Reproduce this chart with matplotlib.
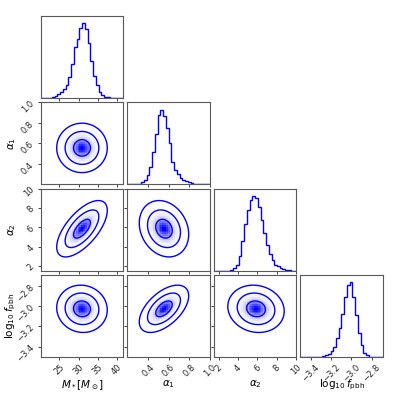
import numpy as np
import matplotlib
matplotlib.use("Agg")
import matplotlib.pyplot as plt
from matplotlib.ticker import MaxNLocator, NullLocator
from matplotlib.colors import LinearSegmentedColormap

# parameter names and plotted ranges
labels = [r"$M_*[M_\odot]$", r"$\alpha_1$", r"$\alpha_2$", r"$\log_{10}f_{\rm pbh}$"]
ranges = [(20.2, 41.7), (0.2, 1.0), (1.5, 10.0), (-3.505, -2.69)]

# 1D marginal histograms (30 bins over each range, peak normalised to 1)
hist_mstar = [0, 0, 0.002, 0.006, 0.015, 0.03, 0.05, 0.08, 0.12, 0.18,
              0.28, 0.46, 0.68, 0.79, 0.94, 1.0, 0.92, 0.73, 0.5, 0.30,
              0.17, 0.08, 0.045, 0.02, 0.01, 0.004, 0.002, 0.001, 0, 0]
hist_alpha1 = [0, 0, 0, 0.002, 0.006, 0.03, 0.06, 0.12, 0.23, 0.44,
               0.68, 0.93, 1.0, 0.91, 0.75, 0.55, 0.30, 0.19, 0.135, 0.09,
               0.063, 0.04, 0.027, 0.018, 0.01, 0.005, 0.003, 0.002, 0.001, 0.001]
hist_alpha2 = [0, 0, 0, 0, 0, 0.003, 0.012, 0.04, 0.085, 0.20,
               0.40, 0.63, 0.82, 0.95, 1.0, 0.97, 0.86, 0.68, 0.51, 0.35,
               0.22, 0.14, 0.085, 0.06, 0.045, 0.025, 0.015, 0.006, 0.002, 0.001]
hist_logf = [0, 0, 0, 0, 0.001, 0.003, 0.005, 0.008, 0.015, 0.03,
             0.045, 0.08, 0.14, 0.26, 0.39, 0.58, 0.80, 0.97, 1.0, 0.80,
             0.56, 0.32, 0.16, 0.06, 0.025, 0.008, 0.003, 0.001, 0, 0]
hists = [hist_mstar, hist_alpha1, hist_alpha2, hist_logf]

# 2D posterior shapes: centre, width, correlation
centers = [30.9, 0.555, 5.85, -3.025]
sigmas = [2.2, 0.08, 0.97, 0.078]
rho = {(1, 0): 0.0, (2, 0): 0.65, (2, 1): -0.2,
       (3, 0): -0.05, (3, 1): 0.55, (3, 2): -0.1}

color = "blue"
nbins = 30
density_cmap = LinearSegmentedColormap.from_list(
    "density_cmap", [color, (1, 1, 1, 0)], gamma=0.75)
sig_levels = np.array([3.0, 2.0, 1.0])

fig, axes = plt.subplots(4, 4, figsize=(3.99, 3.99), dpi=100)
fig.subplots_adjust(left=0.1028, right=0.959, bottom=0.1045, top=0.9607,
                    wspace=0.05, hspace=0.05)


def gauss2d(X, Y, i, j):
    r = rho[(i, j)]
    dx = (X - centers[j]) / sigmas[j]
    dy = (Y - centers[i]) / sigmas[i]
    q = (dx**2 - 2 * r * dx * dy + dy**2) / (1 - r**2)
    return np.exp(-0.5 * q)


n = len(labels)
for i in range(n):
    for j in range(n):
        ax = axes[i, j]
        for sp in ax.spines.values():
            sp.set_color("0.35")
            sp.set_linewidth(0.8)
        ax.tick_params(length=2, width=0.6, pad=2, labelsize=6, colors="0.15")
        if j > i:
            ax.set_frame_on(False)
            ax.set_xticks([])
            ax.set_yticks([])
            continue

        if i == j:
            edges = np.linspace(ranges[i][0], ranges[i][1], nbins + 1)
            ax.hist(edges[:-1], bins=edges, weights=hists[i], histtype="step",
                    color=color, lw=1.0)
            ax.set_xlim(ranges[i])
            ax.set_ylim(0, 1.1 * max(hists[i]))
            ax.yaxis.set_major_locator(NullLocator())
        else:
            # density shading on a fine grid
            xe = np.linspace(ranges[j][0], ranges[j][1], 46)
            ye = np.linspace(ranges[i][0], ranges[i][1], 46)
            xc = 0.5 * (xe[1:] + xe[:-1])
            yc = 0.5 * (ye[1:] + ye[:-1])
            XC, YC = np.meshgrid(xc, yc)
            H = gauss2d(XC, YC, i, j)
            ax.pcolormesh(xe, ye, H.max() - H, cmap=density_cmap, shading="flat")
            # 1, 2, 3 sigma contours
            xf = np.linspace(ranges[j][0], ranges[j][1], 200)
            yf = np.linspace(ranges[i][0], ranges[i][1], 200)
            XF, YF = np.meshgrid(xf, yf)
            ax.contour(XF, YF, gauss2d(XF, YF, i, j),
                       levels=np.exp(-0.5 * sig_levels**2), colors=color,
                       linewidths=1.0)
            ax.set_xlim(ranges[j])
            ax.set_ylim(ranges[i])
            ax.yaxis.set_major_locator(MaxNLocator(5, prune="lower"))
            if j == 0:
                for l in ax.get_yticklabels():
                    l.set_rotation(45)
                ax.set_ylabel(labels[i], fontsize=7.5)
                ax.yaxis.set_label_coords(-0.28, 0.5)
            else:
                ax.set_yticklabels([])

        ax.xaxis.set_major_locator(MaxNLocator(5, prune="lower"))
        if i == n - 1:
            for l in ax.get_xticklabels():
                l.set_rotation(45)
            ax.set_xlabel(labels[j], fontsize=7.5)
            ax.xaxis.set_label_coords(0.5, -0.25)
        else:
            ax.set_xticklabels([])

fig.savefig("out.png", dpi=100)
